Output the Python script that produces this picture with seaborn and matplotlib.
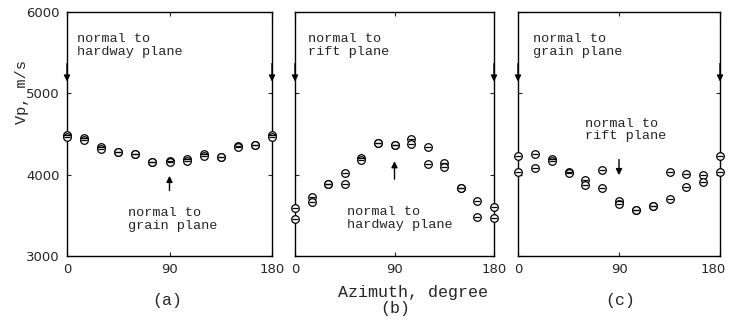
import matplotlib
matplotlib.use("Agg")
import matplotlib.pyplot as plt
import matplotlib.transforms as mtransforms
import seaborn as sns
import pandas as pd

# azimuth in degrees, Vp in m/s (two measurements per azimuth)
azimuth = [0, 15, 30, 45, 60, 75, 90, 105, 120, 135, 150, 165, 180]
vp_a1 = [4490, 4450, 4345, 4275, 4250, 4152, 4168, 4195, 4250, 4221, 4355, 4365, 4490]
vp_a2 = [4465, 4425, 4320, 4275, 4250, 4152, 4160, 4170, 4230, 4221, 4335, 4365, 4465]
vp_b1 = [3590, 3720, 3885, 4017, 4210, 4393, 4365, 4434, 4344, 4139, 3832, 3680, 3599]
vp_b2 = [3455, 3660, 3885, 3885, 4185, 4393, 4365, 4377, 4131, 4098, 3832, 3484, 3463]
vp_c1 = [4230, 4254, 4190, 4035, 3934, 4057, 3680, 3570, 3619, 4037, 4004, 3996, 4230]
vp_c2 = [4037, 4086, 4165, 4015, 3873, 3832, 3645, 3560, 3619, 3697, 3845, 3906, 4037]

panel_labels = ["(a)", "(b)", "(c)"]
top_notes = ["normal to\nhardway plane", "normal to\nrift plane", "normal to\ngrain plane"]
mid_notes = ["normal to\ngrain plane", "normal to\nhardway plane", "normal to\nrift plane"]

rows = []
for lab, s1, s2 in zip(panel_labels, [vp_a1, vp_b1, vp_c1], [vp_a2, vp_b2, vp_c2]):
    for az, v1, v2 in zip(azimuth, s1, s2):
        rows.append({"panel": lab, "azimuth": az, "vp": v1})
        rows.append({"panel": lab, "azimuth": az, "vp": v2})
df = pd.DataFrame(rows)

sns.set_style("ticks")
mono = ["Liberation Mono", "DejaVu Sans Mono"]
plt.rcParams["font.family"] = mono
plt.rcParams["xtick.direction"] = "in"
plt.rcParams["ytick.direction"] = "in"

fig = plt.figure(figsize=(7.31, 3.2), dpi=100)
lefts = [67 / 731, 295 / 731, 518 / 731]
widths = [205 / 731, 199 / 731, 202 / 731]

# note positions: (x, y) of top-left corner in data units
top_pos = [(9, 5740), (12, 5740), (13, 5740)]
mid_pos = [(54, 3600), (47, 3610), (60, 4700)]
mid_arrows = [((90, 3770), (90, 4020)), ((90, 3910), (90, 4200)), ((90, 4220), (90, 3960))]

for i, lab in enumerate(panel_labels):
    ax = fig.add_axes([lefts[i], 0.2, widths[i], 0.7625])
    sub = df[df.panel == lab]
    sns.scatterplot(data=sub, x="azimuth", y="vp", ax=ax, marker="o", s=30,
                    facecolor="white", edgecolor="black", linewidth=0.9, legend=False,
                    zorder=3, clip_on=False)
    sns.scatterplot(data=sub, x="azimuth", y="vp", ax=ax, marker="_", s=22,
                    color="black", linewidth=0.9, legend=False, zorder=4, clip_on=False)
    ax.set_xlim(0, 180)
    ax.set_ylim(3000, 6000)
    ax.set_xticks([0, 90, 180])
    ax.set_yticks([3000, 4000, 5000, 6000])
    ax.set_xlabel("")
    ax.set_ylabel("")
    ax.tick_params(top=True, right=True, length=3, labelsize=9.5, pad=5)
    for t in ax.get_xticklabels() + ax.get_yticklabels():
        t.set_fontfamily("DejaVu Sans")
    if i > 0:
        ax.set_yticklabels([])
    if i == 2:
        last = ax.get_xticklabels()[-1]
        last.set_transform(last.get_transform() +
                           mtransforms.ScaledTranslation(-5 / 72, 0, fig.dpi_scale_trans))
    for sp in ax.spines.values():
        sp.set_linewidth(1.0)
        sp.set_color("black")

    # arrows at 0 and 180 degrees
    for xa in (0, 180):
        ax.annotate("", xy=(xa, 5110), xytext=(xa, 5400), annotation_clip=False,
                    arrowprops=dict(arrowstyle="-|>", color="black", lw=1.0, mutation_scale=9))
    (x0, y0), (x1, y1) = mid_arrows[i]
    ax.annotate("", xy=(x1, y1), xytext=(x0, y0),
                arrowprops=dict(arrowstyle="-|>", color="black", lw=1.0, mutation_scale=9))

    tx, ty = top_pos[i]
    ax.text(tx, ty, top_notes[i], fontsize=9.7, va="top", ha="left", linespacing=1.05)
    mx, my = mid_pos[i]
    ax.text(mx, my, mid_notes[i], fontsize=9.7, va="top", ha="left", linespacing=1.05)

fig.text(22 / 731, 1 - 92 / 320, "Vp, m/s", rotation=90, ha="center", va="center", fontsize=11)
fig.text(413 / 731, 1 - 293 / 320, "Azimuth, degree", ha="center", va="center", fontsize=12)
fig.text(167 / 731, 1 - 300 / 320, "(a)", ha="center", va="center", fontsize=12)
fig.text(395 / 731, 1 - 308 / 320, "(b)", ha="center", va="center", fontsize=12)
fig.text(620 / 731, 1 - 300 / 320, "(c)", ha="center", va="center", fontsize=12)

fig.savefig("out.png", dpi=100)
